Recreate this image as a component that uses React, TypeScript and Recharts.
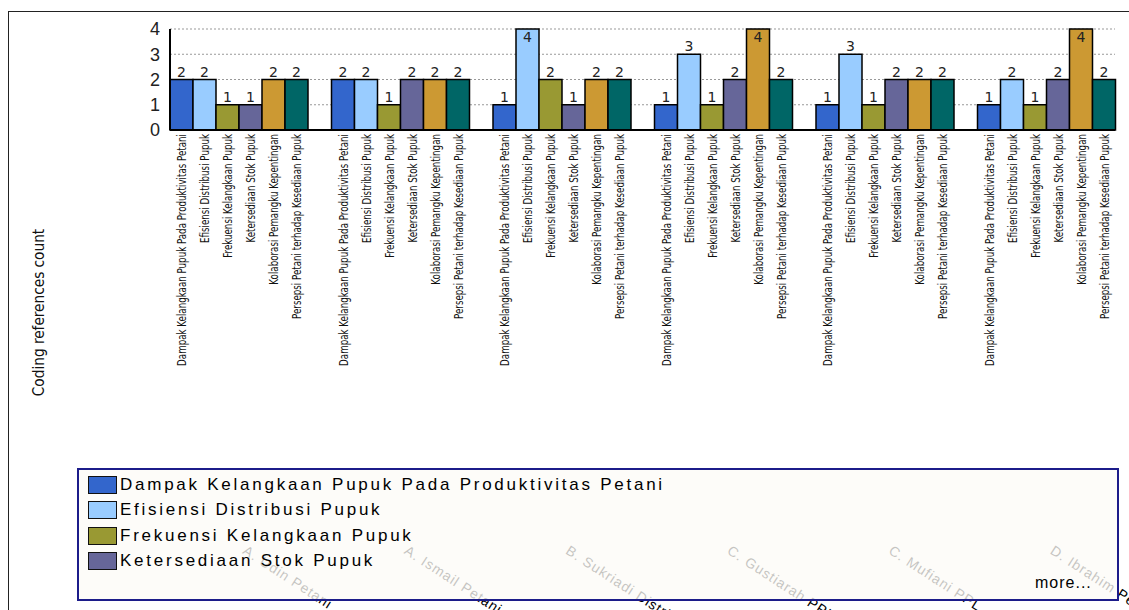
import React from "react"
import { BarChart, Bar, XAxis, YAxis, CartesianGrid, LabelList } from "recharts"

const groups = [
  "A. Udin Petani",
  "A. Ismail Petani",
  "B. Sukriadi Distributor",
  "C. Gustiarah PPL",
  "C. Mufiani PPL",
  "D. Ibrahim Pemerintah",
]

const seriesNames = [
  "Dampak Kelangkaan Pupuk Pada Produktivitas Petani",
  "Efisiensi Distribusi Pupuk",
  "Frekuensi Kelangkaan Pupuk",
  "Ketersediaan Stok Pupuk",
  "Kolaborasi Pemangku Kepentingan",
  "Persepsi Petani terhadap Kesediaan Pupuk",
]

const seriesColors = ["#3366CC", "#99CCFF", "#999933", "#666699", "#CC9933", "#006666"]

const dampak = [2, 2, 1, 1, 1, 1]
const efisiensi = [2, 2, 4, 3, 3, 2]
const frekuensi = [1, 1, 2, 1, 1, 1]
const ketersediaan = [1, 2, 1, 2, 2, 2]
const kolaborasi = [2, 2, 2, 4, 2, 4]
const persepsi = [2, 2, 2, 2, 2, 2]

const yTicks = [0, 1, 2, 3, 4]

const seriesValues = [dampak, efisiensi, frekuensi, ketersediaan, kolaborasi, persepsi]
const keys = ["s0", "s1", "s2", "s3", "s4", "s5"]

const data = groups.map((g, i) => {
  const row: any = { name: g }
  keys.forEach((k, j) => (row[k] = seriesValues[j][i]))
  return row
})

const NARROW = "'Liberation Sans Narrow', 'Arial Narrow', 'DejaVu Sans Condensed', sans-serif"
const SANS = "'Liberation Sans', Arial, sans-serif"

const PLOT_TOP = 29

// series name under every bar, squeezed to look like the narrow font of the original
const nameLabel = (name: string) => (props: any) => {
  const { x, y, width, height } = props
  const cx = x + width / 2
  const by = y + height + 4
  return (
    <g transform={`translate(${cx} ${by}) rotate(-90) scale(0.745 1)`}>
      <text x={0} y={0} textAnchor="end" dominantBaseline="central" fontFamily={NARROW} fontSize={13} fill="#111">
        {name}
      </text>
    </g>
  )
}

const valueLabel = (props: any) => {
  const { x, y, width, value } = props
  const inside = y - PLOT_TOP < 12
  return (
    <text
      x={x + width / 2}
      y={inside ? y + 13 : y - 3}
      textAnchor="middle"
      fontFamily="'DejaVu Sans', sans-serif"
      fontSize={14}
      fill="#222"
    >
      {value}
    </text>
  )
}

const GroupTick = (props: any) => {
  const { x, payload } = props
  const tx = x + 3
  const ty = 553
  return (
    <text
      x={tx}
      y={ty}
      transform={`rotate(33 ${tx} ${ty})`}
      textAnchor="start"
      fontFamily={SANS}
      fontSize={14}
      letterSpacing={1}
      fill="#000"
    >
      {payload.value}
    </text>
  )
}

export default function App() {
  return (
    <div style={{ position: "relative", width: 1129, height: 610, overflow: "hidden", background: "#fff" }}>
      <style>{"html,body{margin:0;padding:0;overflow:hidden}"}</style>
      <div
        style={{
          position: "absolute",
          left: 8,
          top: 11,
          width: 1200,
          height: 700,
          borderTop: "1.5px solid #222",
          borderLeft: "1.5px solid #222",
        }}
      />
      <BarChart
        width={1129}
        height={610}
        data={data}
        margin={{ top: PLOT_TOP, right: 14, bottom: 10, left: 0 }}
        barCategoryGap={12}
        barGap={0}
      >
        <CartesianGrid vertical={false} stroke="#999" strokeDasharray="2 2" />
        <XAxis
          dataKey="name"
          height={470}
          padding={{ left: -12, right: -12 }}
          axisLine={{ stroke: "#000", strokeWidth: 2 }}
          tickLine={false}
          tick={<GroupTick />}
          interval={0}
        />
        <YAxis
          width={170}
          domain={[0, 4]}
          ticks={yTicks}
          interval={0}
          axisLine={{ stroke: "#000", strokeWidth: 2 }}
          tickLine={false}
          tickMargin={4}
          tick={{ fill: "#222", fontSize: 18, fontFamily: SANS }}
        />
        {keys.map((k, j) => (
          <Bar key={k} dataKey={k} fill={seriesColors[j]} stroke="#000" strokeWidth={1.5} isAnimationActive={false}>
            <LabelList dataKey={k} content={valueLabel} />
            <LabelList dataKey={k} content={nameLabel(seriesNames[j])} />
          </Bar>
        ))}
      </BarChart>
      <div
        style={{
          position: "absolute",
          left: 8,
          top: 232,
          width: 60,
          height: 160,
          display: "flex",
          alignItems: "center",
          justifyContent: "center",
        }}
      >
        <div
          style={{
            transform: "rotate(-90deg) scale(0.95, 1)",
            whiteSpace: "nowrap",
            fontFamily: NARROW,
            fontSize: 16,
            color: "#111",
          }}
        >
          Coding references count
        </div>
      </div>
      <div
        style={{
          position: "absolute",
          left: 77,
          top: 468,
          width: 1038,
          height: 129,
          border: "2px solid #1c1c8a",
          background: "rgba(253,251,247,0.78)",
          fontFamily: SANS,
        }}
      >
        {seriesNames.slice(0, 4).map((n, j) => (
          <div
            key={n}
            style={{ position: "absolute", left: 9, top: 5 + j * 25.3, height: 20, display: "flex", alignItems: "center" }}
          >
            <div
              style={{
                width: 27,
                height: 16,
                background: seriesColors[j],
                border: "1.5px solid #111",
                marginRight: 3,
              }}
            />
            <span style={{ fontSize: 17, letterSpacing: 2.75, color: "#000", whiteSpace: "nowrap" }}>{n}</span>
          </div>
        ))}
        <div style={{ position: "absolute", left: 956, top: 104, fontSize: 16, letterSpacing: 1, color: "#000" }}>
          more...
        </div>
      </div>
    </div>
  )
}
